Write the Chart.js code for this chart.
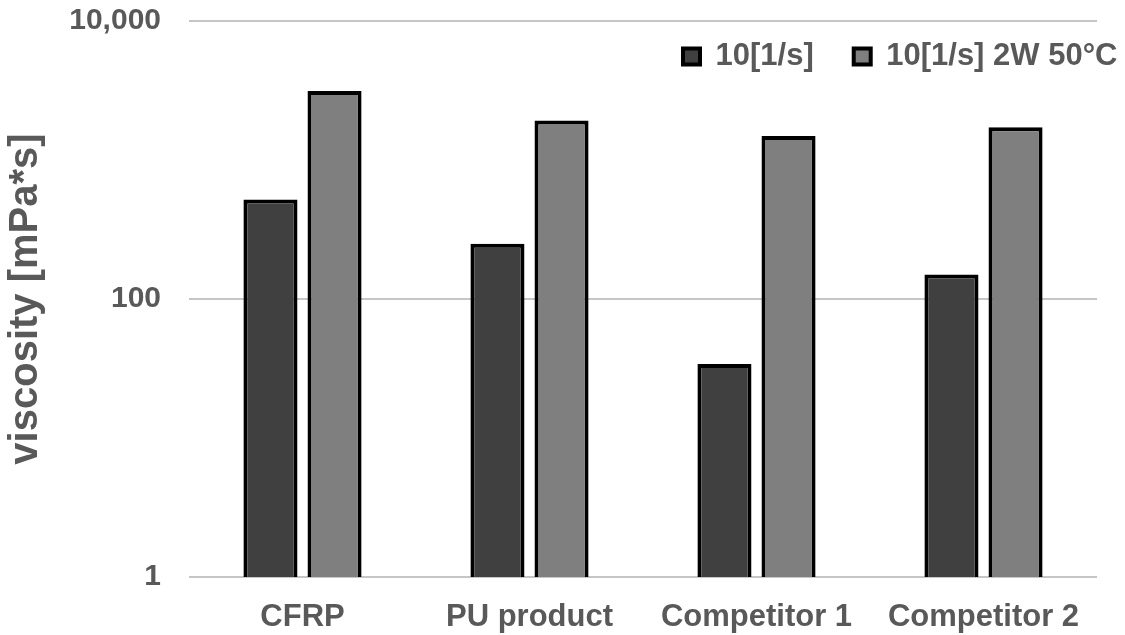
<!DOCTYPE html>
<html>
<head>
<meta charset="utf-8">
<script src="https://cdn.jsdelivr.net/npm/chart.js@4.4.1/dist/chart.umd.min.js"></script>
<style>
  html, body { margin: 0; padding: 0; background: #ffffff; }
  #wrap { width: 1125px; height: 635px; position: relative; }
</style>
</head>
<body>
<div id="wrap"><canvas id="c" width="1125" height="635"></canvas></div>
<script>
// ---- data ----
const categories = ['CFRP', 'PU product', 'Competitor 1', 'Competitor 2'];
const seriesNames = ['10[1/s]', '10[1/s] 2W 50°C'];
const shear10 = [520, 250, 34, 150];
const shear10aged = [3130, 1920, 1490, 1720];
const yTicks = [1, 100, 10000];
const yTitle = 'viscosity [mPa*s]';

// ---- style ----
const FONT = "'Liberation Sans', Arial, sans-serif";
const TXT = '#595959';

const legendPlace = {
  id: 'legendPlace',
  afterLayout(chart) {
    const lg = chart.legend;
    if (!lg) return;
    lg.left = 643; lg.right = 1250;
    lg.top = 1; lg.bottom = 130;
  }
};

new Chart(document.getElementById('c'), {
  type: 'bar',
  data: {
    labels: categories,
    datasets: [
      {
        label: seriesNames[0],
        data: shear10,
        backgroundColor: '#404040',
        borderColor: '#000000',
        borderWidth: 4,
        categoryPercentage: 0.5645,
        barPercentage: 0.844
      },
      {
        label: seriesNames[1],
        data: shear10aged,
        backgroundColor: '#7f7f7f',
        borderColor: '#000000',
        borderWidth: 4,
        categoryPercentage: 0.5645,
        barPercentage: 0.844
      }
    ]
  },
  options: {
    responsive: false,
    animation: false,
    devicePixelRatio: 1,
    layout: { padding: { top: 20, right: 28, left: 0, bottom: 0 } },
    plugins: {
      legend: {
        position: 'top',
        align: 'start',
        maxHeight: 1,
        labels: {
          boxWidth: 17,
          boxHeight: 16,
          padding: 40,
          color: TXT,
          font: { family: FONT, size: 31, weight: 'bold' }
        }
      },
      tooltip: { enabled: false },
      title: { display: false }
    },
    scales: {
      x: {
        grid: { display: false },
        border: { display: false },
        ticks: {
          autoSkip: false,
          maxRotation: 0,
          padding: 14,
          color: TXT,
          font: { family: FONT, size: 31, weight: 'bold' }
        },
        afterFit(scale) { scale.height = 58; }
      },
      y: {
        type: 'logarithmic',
        min: 1,
        max: 10000,
        border: { display: false },
        grid: { color: '#c6c6c6', lineWidth: 2, drawTicks: false },
        afterBuildTicks(scale) {
          scale.ticks = yTicks.map(v => ({ value: v }));
        },
        ticks: {
          padding: 28,
          color: TXT,
          font: { family: FONT, size: 30, weight: 'bold' },
          callback: (v) => Number(v).toLocaleString('en-US')
        },
        title: {
          display: true,
          text: yTitle,
          color: TXT,
          font: { family: FONT, size: 40, weight: 'bold' },
          padding: { top: 2, bottom: 0 }
        },
        afterFit(scale) {
          scale.width = 189;
          scale.paddingTop = 18;
          scale.paddingBottom = 18;
        }
      }
    }
  },
  plugins: [legendPlace]
});
</script>
</body>
</html>
